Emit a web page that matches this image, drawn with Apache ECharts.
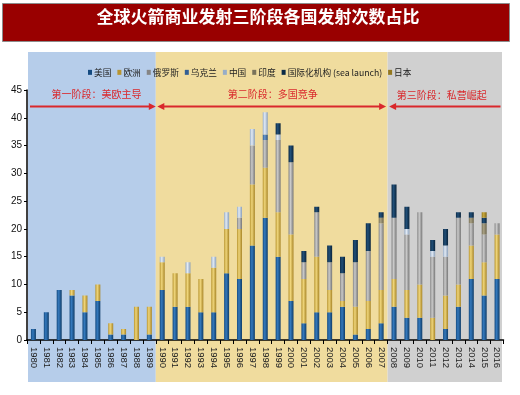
<!DOCTYPE html>
<html><head><meta charset="utf-8">
<script src="https://cdn.jsdelivr.net/npm/echarts@6/dist/echarts.min.js"></script>
<style>html,body{margin:0;padding:0;background:#fff}#c{width:520px;height:395px}</style>
</head><body><div id="c"></div>
<script>
const years = ['1980','1981','1982','1983','1984','1985','1986','1987','1988','1989',
  '1990','1991','1992','1993','1994','1995','1996','1997','1998','1999',
  '2000','2001','2002','2003','2004','2005','2006','2007',
  '2008','2009','2010','2011','2012','2013','2014','2015','2016'];
const usa     = [2,5,9,8,5,7,1,1,0,1, 9,6,6,5,5,12,11,17,22,15, 7,3,5,5,6,1,2,3, 6,4,4,0,2,6,11,8,11];
const europe  = [0,0,0,1,3,3,2,1,6,5, 5,6,6,6,8,8,9,11,9,8, 12,8,10,4,1,5,5,6, 5,5,6,4,6,4,6,6,8];
const russia  = [0,0,0,0,0,0,0,0,0,0, 0,0,0,0,0,0,2,7,5,13, 13,3,8,5,5,8,9,12, 11,10,13,11,7,12,4,5,2];
const ukraine = [0,0,0,0,0,0,0,0,0,0, 0,0,0,0,0,0,0,0,1,0, 0,0,0,0,0,0,0,0, 0,0,0,0,0,0,0,0,0];
const china   = [0,0,0,0,0,0,0,0,0,0, 1,0,2,0,2,3,2,3,4,1, 0,0,0,0,0,0,0,0, 0,1,0,1,2,0,0,0,0];
const india   = [0,0,0,0,0,0,0,0,0,0, 0,0,0,0,0,0,0,0,0,0, 0,0,0,0,0,0,0,1, 0,0,0,0,0,0,1,2,0];
const seaLaunch=[0,0,0,0,0,0,0,0,0,0, 0,0,0,0,0,0,0,0,0,2, 3,2,1,3,3,4,5,1, 6,4,0,2,3,1,1,1,0];
const japan   = [0,0,0,0,0,0,0,0,0,0, 0,0,0,0,0,0,0,0,0,0, 0,0,0,0,0,0,0,0, 0,0,0,0,0,0,0,1,0];
const seriesNames = ['美国','欧洲','俄罗斯','乌克兰','中国','印度','国际化机构 (sea launch)','日本'];
const seriesData = [usa, europe, russia, ukraine, china, india, seaLaunch, japan];
const yTicks = {min:0, max:45, interval:5};
const phaseTitles = ['第一阶段：美欧主导','第二阶段：多国竞争','第三阶段：私营崛起'];
const phaseStart = ['1980','1990','2008'];
const phaseEnd = ['1989','2007','2016'];
const chartTitle = '全球火箭商业发射三阶段各国发射次数占比';

const palette = [
  ['#144a80','#3479bd','#0f3c68'],
  ['#b89530','#efd57a','#a88526'],
  ['#858585','#cacaca','#767676'],
  ['#335f94','#6a98cc','#284f7c'],
  ['#98adc7','#e2ebf6','#8a9fb9'],
  ['#7a735a','#a9a184','#6c654d'],
  ['#0b2a46','#214f78','#09233b'],
  ['#94781e','#c9a93c','#7d6518']
];
function grad(c){
  return new echarts.graphic.LinearGradient(0,0,1,0,[
    {offset:0,color:c[0]},{offset:0.4,color:c[1]},{offset:1,color:c[2]}]);
}
const chart = echarts.init(document.getElementById('c'), null, {renderer:'canvas'});
const FF = '"Noto Sans CJK SC", sans-serif';
chart.setOption({
  backgroundColor:'#ffffff',
  animation:false,
  grid:{left:27, right:16.5, top:90, bottom:55, outerBoundsMode:'none'},
  legend:{
    left:88, top:68, itemWidth:4, itemHeight:5, itemGap:6,
    icon:'rect', padding:0,
    textStyle:{fontSize:8.7, color:'#222', fontFamily:FF, padding:[0,0,0,-3]},
    data: seriesNames.map((n,i)=>({name:n, itemStyle:{color:palette[i][0]}}))
  },
  xAxis:{
    type:'category', data:years, boundaryGap:true,
    axisLine:{lineStyle:{color:'#000', width:1.5}},
    axisTick:{show:true, interval:0, length:4, lineStyle:{color:'#000'}},
    axisLabel:{interval:0, rotate:-90, fontSize:9.5, color:'#222', margin:7,
      fontFamily:'"Liberation Sans", Arial, sans-serif'}
  },
  yAxis:{
    type:'value', min:yTicks.min, max:yTicks.max, interval:yTicks.interval,
    splitLine:{show:false},
    axisLine:{show:true, lineStyle:{color:'#000', width:1.5}},
    axisTick:{show:true, length:3, lineStyle:{color:'#000'}},
    axisLabel:{fontSize:10, color:'#111', margin:5,
      fontFamily:'"Liberation Sans", Arial, sans-serif'}
  },
  series: seriesNames.map((n,i)=>({
    name:n, type:'bar', stack:'total', barWidth:5,
    data: seriesData[i],
    itemStyle:{color:grad(palette[i])}
  }))
});

const px = i => chart.convertToPixel({xAxisIndex:0}, years[i]);
const bw = px(1) - px(0);
const bnd = i => px(i) - bw/2;
const idx = y => years.indexOf(y);
const yPix = v => chart.convertToPixel({yAxisIndex:0}, v);
const bgTop = 52, bgBottom = 382;
const bgColors = ['#b6cdea','#f0dc9e','#d0d0d0'];
const arrowY = Math.round(yPix(42.2)) + 0.5;
const textY = yPix(44.3);
const red = '#d9282c';
const g = [];
g.push({type:'rect', shape:{x:2.5,y:3.5,width:507,height:38}, style:{fill:'#990000', stroke:'#8c8c8c', lineWidth:1}, z:5});
g.push({type:'text', x:258, y:17, style:{text:chartTitle, fill:'#fff', font:'bold 17px '+FF, align:'center', verticalAlign:'middle'}, z:6});
g.push({type:'text', x:393, y:19, style:{text:'↵', fill:'#bbb', font:'8px '+FF, align:'left', verticalAlign:'middle'}, z:6});
for (let p=0;p<3;p++){
  const l = bnd(idx(phaseStart[p])) + (p===0?1:0);
  const r = bnd(idx(phaseEnd[p])) + bw - (p===2?1.5:0);
  g.push({type:'rect', shape:{x:l, y:bgTop, width:r-l, height:bgBottom-bgTop}, style:{fill:bgColors[p]}, z:-10});
  const tOff = [4.5, 1, -3][p];
  g.push({type:'text', x:(l+r)/2 + tOff, y: textY + (p===2?1.5:0), style:{text:phaseTitles[p], fill:red, font:'10px '+FF, align:'center', verticalAlign:'middle'}, z:10});
}
const b10 = bnd(idx('1990')), b28 = bnd(idx('2008'));
const ah = 7, aw = 3.5;
function head(xTip, dir){
  return {type:'polygon', shape:{points:[[xTip,arrowY],[xTip-dir*ah,arrowY-aw],[xTip-dir*ah,arrowY+aw]]}, style:{fill:red}, z:10};
}
function line(x1,x2){
  return {type:'line', shape:{x1:x1,y1:arrowY,x2:x2,y2:arrowY}, style:{stroke:red, lineWidth:2}, z:10};
}
g.push(line(bnd(0)+3, b10-5), head(b10, 1));
g.push(head(b10+1.5, -1), line(b10+6, b28-5), head(b28-1.5, 1));
g.push(head(b28+1.5, -1), line(b28+6, bnd(36)+bw-3));
chart.setOption({graphic:g});
</script></body></html>
